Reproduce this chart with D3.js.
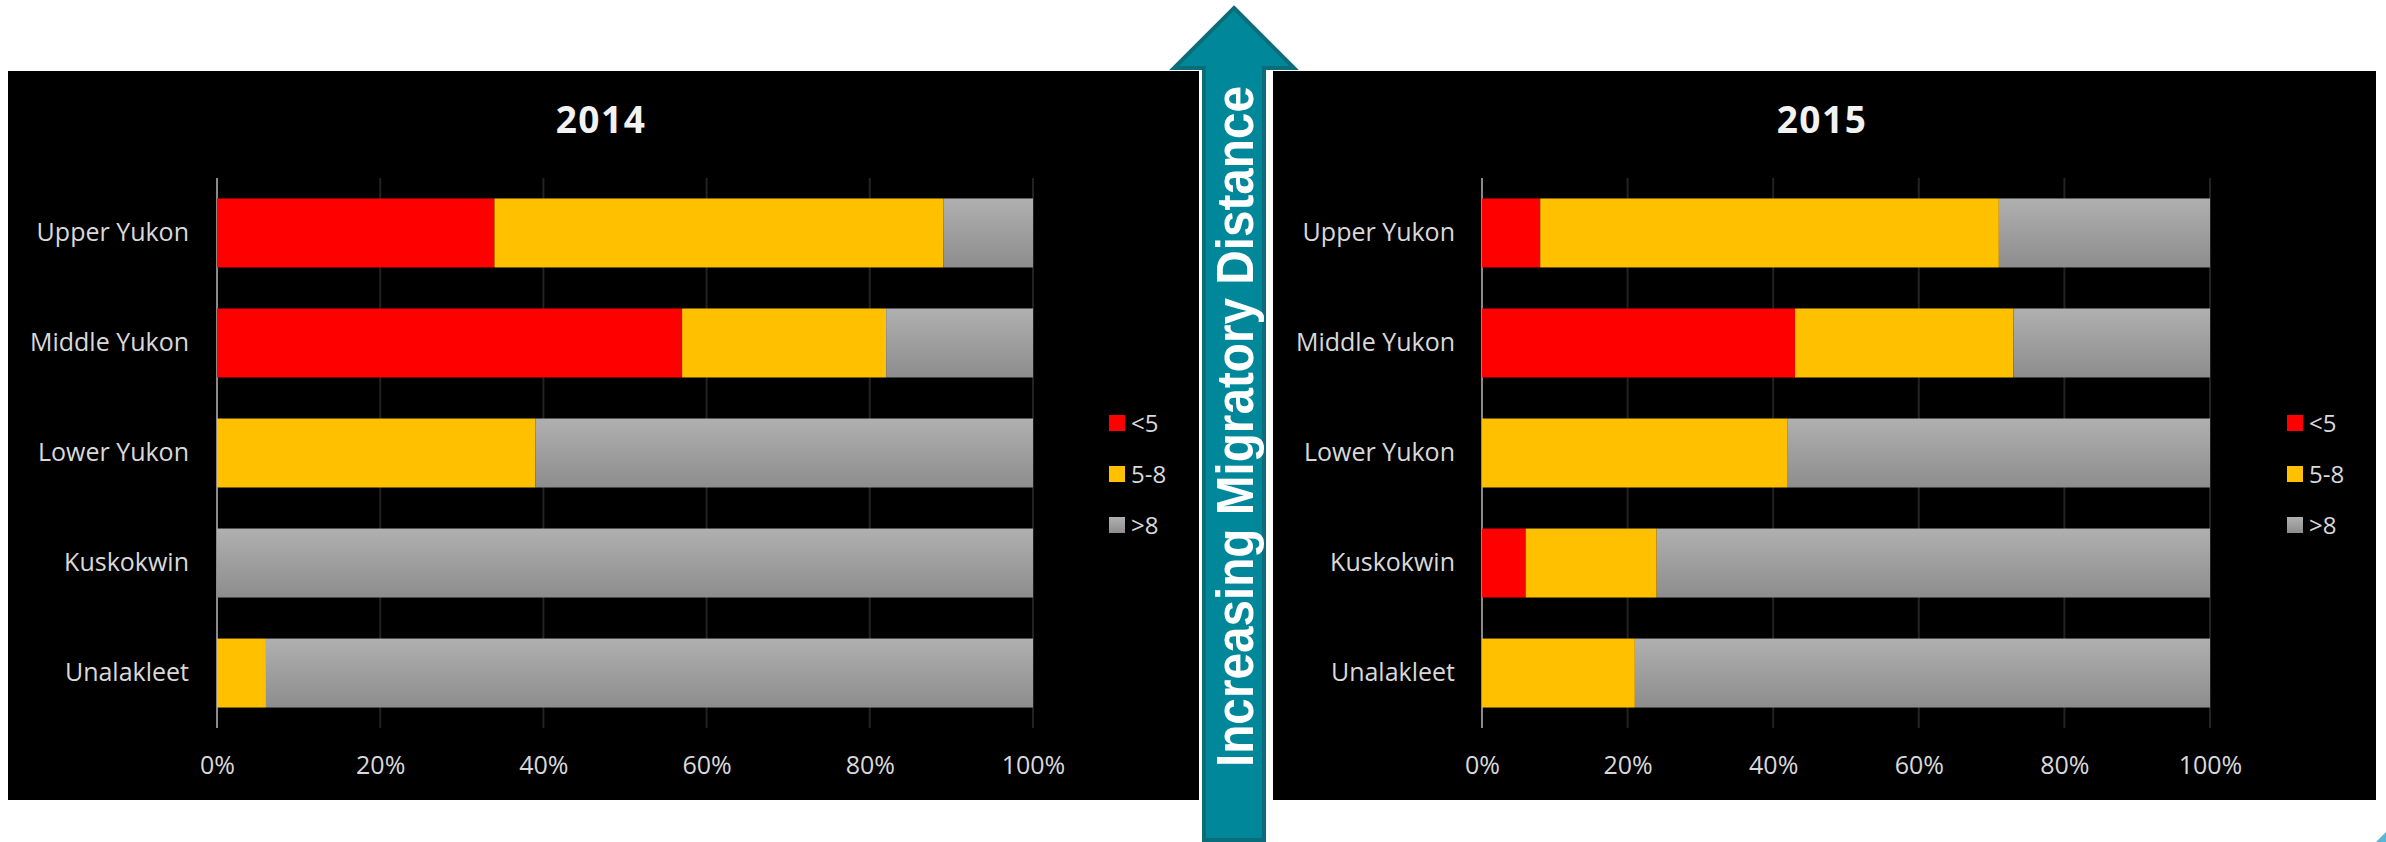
<!DOCTYPE html>
<html>
<head>
<meta charset="utf-8">
<title>Migratory distance by age</title>
<script src="https://cdn.jsdelivr.net/npm/d3@7"></script>
<style>
  body { margin: 0; background: #fff; }
  svg { display: block; }
</style>
</head>
<body>
<script>
// data (percent of fish)
var categories = ["Upper Yukon", "Middle Yukon", "Lower Yukon", "Kuskokwin", "Unalakleet"];
var seriesNames = ["<5", "5-8", ">8"];
var under5_2014 = [34, 57, 0, 0, 0];
var mid_2014    = [55, 25, 39, 0, 6];
var over8_2014  = [11, 18, 61, 100, 94];
var under5_2015 = [8, 43, 0, 6, 0];
var mid_2015    = [63, 30, 42, 18, 21];
var over8_2015  = [29, 27, 58, 76, 79];
var tickValues  = [0, 20, 40, 60, 80, 100];

var W = 2386, H = 842;
var colors = {"<5": "#ff0000", "5-8": "#ffc000", ">8": "url(#grayGrad)"};

var svg = d3.select("body").append("svg")
  .attr("width", W).attr("height", H);

// gray bars have a soft top-to-bottom gradient
var grad = svg.append("defs").append("linearGradient")
  .attr("id", "grayGrad").attr("x1", 0).attr("y1", 0).attr("x2", 0).attr("y2", 1);
grad.append("stop").attr("offset", "0%").attr("stop-color", "#b0b0b0");
grad.append("stop").attr("offset", "100%").attr("stop-color", "#8d8d8d");

function makeRows(a, b, c) {
  return categories.map(function(cat, i) {
    return {cat: cat, "<5": a[i], "5-8": b[i], ">8": c[i]};
  });
}

function drawPanel(o) {
  var g = svg.append("g");
  g.append("rect")
    .attr("x", o.px).attr("y", 71).attr("width", o.pw).attr("height", 729)
    .attr("fill", "#000");

  var x = d3.scaleLinear().domain([0, 100]).range([o.x0, o.x1]);
  var y = d3.scaleBand().domain(categories).range([178, 728])
    .paddingInner(0.373).paddingOuter(0.186);

  // gridlines
  g.selectAll("line.grid").data(tickValues).enter().append("line")
    .attr("class", "grid")
    .attr("x1", function(d) { return x(d); })
    .attr("x2", function(d) { return x(d); })
    .attr("y1", 178).attr("y2", 728)
    .attr("stroke", function(d) { return d === 0 ? "#8a8a8a" : "#222222"; })
    .attr("stroke-width", 2);

  var stack = d3.stack().keys(seriesNames)(o.rows);
  g.selectAll("g.series").data(stack).enter().append("g")
    .attr("fill", function(s) { return colors[s.key]; })
    .selectAll("rect").data(function(s) { return s; }).enter().append("rect")
    .attr("x", function(d) { return x(d[0]); })
    .attr("width", function(d) { return x(d[1]) - x(d[0]); })
    .attr("y", function(d) { return y(d.data.cat); })
    .attr("height", y.bandwidth());

  // x axis labels
  var xAxis = d3.axisBottom(x).tickValues(tickValues)
    .tickFormat(function(d) { return d + "%"; }).tickSize(0).tickPadding(0);
  var ax = g.append("g").attr("transform", "translate(0,774)").call(xAxis);
  ax.select(".domain").remove();
  ax.selectAll("text")
    .attr("dy", 0).attr("y", 0)
    .attr("fill", "#d9d9d9")
    .style("font-family", "'Open Sans', sans-serif").style("font-size", "25px");

  // category labels
  var yAxis = d3.axisLeft(y).tickSize(0).tickPadding(0);
  var ay = g.append("g").attr("transform", "translate(" + o.labelX + ",0)").call(yAxis);
  ay.select(".domain").remove();
  ay.selectAll("text")
    .attr("fill", "#d9d9d9")
    .style("font-family", "'Open Sans', sans-serif").style("font-size", "25px");

  // title
  g.append("text")
    .attr("x", o.titleX).attr("y", 133)
    .attr("text-anchor", "middle")
    .attr("fill", "#f2f2f2")
    .style("font-family", "'Open Sans', sans-serif").style("font-weight", "bold")
    .style("font-size", "37px").style("letter-spacing", "1.5px")
    .text(o.title);

  // legend
  var lg = g.selectAll("g.legend").data(seriesNames).enter().append("g")
    .attr("transform", function(d, i) { return "translate(" + o.legX + "," + (415 + i * 51) + ")"; });
  lg.append("rect").attr("width", 16).attr("height", 16)
    .attr("fill", function(d) { return colors[d]; });
  lg.append("text").attr("x", 22).attr("y", 16.5)
    .attr("fill", "#d9d9d9")
    .style("font-family", "'Open Sans', sans-serif").style("font-size", "24px")
    .text(function(d) { return d; });
}

drawPanel({px: 8, pw: 1191, x0: 217, x1: 1033, labelX: 189, titleX: 601, legX: 1109,
  title: "2014", rows: makeRows(under5_2014, mid_2014, over8_2014)});
drawPanel({px: 1273, pw: 1103, x0: 1482, x1: 2210, labelX: 1455, titleX: 1822, legX: 2287,
  title: "2015", rows: makeRows(under5_2015, mid_2015, over8_2015)});

// the big arrow between the panels
var arrow = svg.append("g");
arrow.append("path")
  .attr("d", "M1234,8 L1294,68 L1264,68 L1264,840 L1204,840 L1204,68 L1174,68 Z")
  .attr("fill", "#00889a").attr("stroke", "#0a6d79").attr("stroke-width", 4)
  .attr("stroke-linejoin", "miter");
arrow.append("text")
  .attr("transform", "translate(1253,426.5) rotate(-90)")
  .attr("text-anchor", "middle")
  .attr("fill", "#ffffff")
  .attr("textLength", 681).attr("lengthAdjust", "spacingAndGlyphs")
  .style("font-family", "'Liberation Sans', Arial, sans-serif").style("font-weight", "bold")
  .style("font-size", "51px")
  .text("Increasing Migratory Distance");

// small slide corner mark
svg.append("path").attr("d", "M2386,832 L2386,842 L2376,842 Z").attr("fill", "#5ab5d6");
</script>
</body>
</html>
